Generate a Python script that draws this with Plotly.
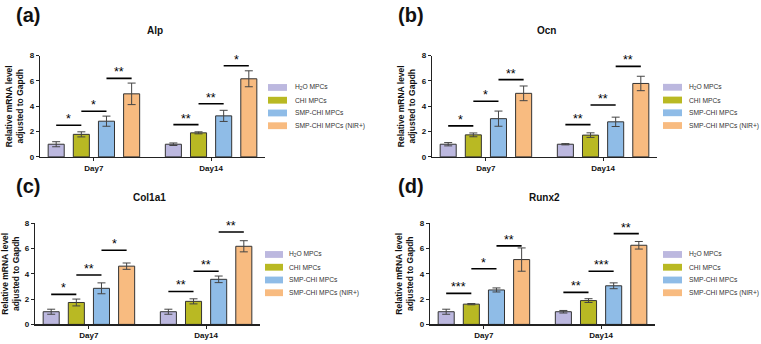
import plotly.graph_objects as go

# ---------------- data ----------------
days = ["Day7", "Day14"]
groups = ["H<sub>2</sub>O MPCs", "CHI MPCs", "SMP-CHI MPCs", "SMP-CHI MPCs (NIR+)"]
panel_titles = ["Alp", "Ocn", "Col1a1", "Runx2"]
panel_labels = ["(a)", "(b)", "(c)", "(d)"]

# values[group] = [Day7, Day14]
alp_mean = [[1.0, 1.0], [1.78, 1.9], [2.82, 3.24], [4.98, 6.17]]
alp_err = [[0.2, 0.1], [0.2, 0.08], [0.4, 0.44], [0.85, 0.63]]
ocn_mean = [[1.0, 1.0], [1.74, 1.72], [3.02, 2.77], [5.02, 5.8]]
ocn_err = [[0.13, 0.05], [0.15, 0.18], [0.6, 0.37], [0.58, 0.57]]
col_mean = [[1.0, 1.0], [1.73, 1.82], [2.85, 3.56], [4.6, 6.17]]
col_err = [[0.2, 0.2], [0.27, 0.2], [0.43, 0.26], [0.25, 0.44]]
run_mean = [[1.0, 1.0], [1.6, 1.88], [2.72, 3.05], [5.12, 6.25]]
run_err = [[0.2, 0.1], [0.05, 0.15], [0.16, 0.23], [0.92, 0.3]]

# significance: (day index, group i, group j, height, label)
alp_sig = [(0, 0, 1, 2.5, "*"), (0, 1, 2, 3.6, "*"), (0, 2, 3, 6.2, "**"),
           (1, 0, 1, 2.55, "**"), (1, 1, 2, 4.2, "**"), (1, 2, 3, 7.2, "*")]
ocn_sig = [(0, 0, 1, 2.45, "*"), (0, 1, 2, 4.4, "*"), (0, 2, 3, 6.1, "**"),
           (1, 0, 1, 2.55, "**"), (1, 1, 2, 4.1, "**"), (1, 2, 3, 7.15, "**")]
col_sig = [(0, 0, 1, 2.37, "*"), (0, 1, 2, 3.9, "**"), (0, 2, 3, 5.86, "*"),
           (1, 0, 1, 2.6, "**"), (1, 1, 2, 4.2, "**"), (1, 2, 3, 7.3, "**")]
run_sig = [(0, 0, 1, 2.45, "***"), (0, 1, 2, 4.4, "*"), (0, 2, 3, 6.2, "**"),
           (1, 0, 1, 2.53, "**"), (1, 1, 2, 4.2, "***"), (1, 2, 3, 7.17, "**")]

yticks = [0, 2, 4, 6, 8]

# ---------------- style ----------------
colors = ["#BCB8DF", "#B9B923", "#8FBCE7", "#F8BB80"]
W, H = 761, 344


def fx(px):
    return px / W


def fy(py):
    return 1 - py / H


FONT = "Arial, Liberation Sans, sans-serif"
STRIDE = 0.2146
BARW = 0.137
XR = [-0.46, 1.46]
# pixel boxes: (x0, x1, ytop, ybottom)
boxes = [(40, 265, 53, 157), (432, 657, 53, 157), (35, 260, 225, 329), (430, 655, 225, 329)]
# legend: swatch x0, swatch x1, text x, first row y
legend_px = [(268, 287, 293, 85.7), (663, 682, 687, 85.5), (265, 283, 287, 257.2), (663, 682, 687, 257.2)]
ROW = 13.1

means = [alp_mean, ocn_mean, col_mean, run_mean]
errs = [alp_err, ocn_err, col_err, run_err]
sigs = [alp_sig, ocn_sig, col_sig, run_sig]

fig = go.Figure()
annotations = []
shapes = []
layout = {}


def xpos(day, g):
    return day + (g - 1.5) * STRIDE


for p in range(4):
    ax = "" if p == 0 else str(p + 1)
    xa, ya = "x" + ax, "y" + ax
    for g in range(4):
        fig.add_trace(go.Bar(
            x=[xpos(d, g) for d in range(len(days))],
            y=means[p][g],
            width=BARW,
            name=groups[g],
            marker=dict(color=colors[g], line=dict(color="#333333", width=1)),
            error_y=dict(type="data", array=errs[p][g], color="#444444", thickness=1, width=4),
            xaxis=xa, yaxis=ya, showlegend=False,
        ))
    for (d, i, j, h, lab) in sigs[p]:
        fig.add_trace(go.Scatter(
            x=[xpos(d, i), xpos(d, j)], y=[h, h], mode="lines",
            line=dict(color="black", width=1.6),
            xaxis=xa, yaxis=ya, showlegend=False, hoverinfo="skip",
        ))
        annotations.append(dict(
            x=(xpos(d, i) + xpos(d, j)) / 2, y=h, xref=xa, yref=ya,
            text=lab, showarrow=False, yanchor="bottom", yshift=-3,
            font=dict(family=FONT, size=12.5, color="black"),
        ))
    x0, x1, yt, yb = boxes[p]
    layout["xaxis" + ax] = dict(
        domain=[fx(x0), fx(x1)], range=XR, anchor=ya,
        tickvals=list(range(len(days))), ticktext=["<b>%s</b>" % d for d in days],
        showline=True, linecolor="#222", linewidth=1.2, ticks="outside", ticklen=3,
        tickcolor="#222", tickfont=dict(family=FONT, size=8, color="#111"),
        showgrid=False, zeroline=False, fixedrange=True,
    )
    layout["yaxis" + ax] = dict(
        domain=[fy(yb), fy(yt)], range=[0, 8], anchor=xa,
        tickvals=yticks, ticktext=["<b>%d</b>" % t for t in yticks],
        showline=True, linecolor="#222", linewidth=1.2, ticks="outside", ticklen=3,
        tickcolor="#222", tickfont=dict(family=FONT, size=8, color="#111"),
        showgrid=False, zeroline=False, fixedrange=True,
        title=dict(text="<b>Relative mRNA level<br>adjusted to Gapdh</b>",
                   font=dict(family=FONT, size=8.5, color="#111"), standoff=4),
    )
    # legend (manual)
    sx0, sx1, tx, ry = legend_px[p]
    for g in range(4):
        cy = ry + g * ROW
        shapes.append(dict(type="rect", xref="paper", yref="paper",
                           x0=fx(sx0), x1=fx(sx1), y0=fy(cy + 3.5), y1=fy(cy - 3.5),
                           fillcolor=colors[g], line=dict(width=0)))
        annotations.append(dict(
            x=fx(tx), y=fy(cy), xref="paper", yref="paper", text=groups[g],
            showarrow=False, xanchor="left", yanchor="middle",
            font=dict(family=FONT, size=6.7, color="#333"),
        ))
    # panel title
    annotations.append(dict(
        x=fx((x0 + x1) / 2 + 2), y=fy(yt - 26), xref="paper", yref="paper",
        text="<b>%s</b>" % panel_titles[p], showarrow=False,
        font=dict(family=FONT, size=10, color="#111"), xanchor="center", yanchor="middle",
    ))
    # panel label
    lab_x = 14 if p % 2 == 0 else 396
    lab_y = 11 if p < 2 else 187
    annotations.append(dict(
        x=fx(lab_x), y=fy(lab_y), xref="paper", yref="paper",
        text="<b>%s</b>" % panel_labels[p], showarrow=False,
        font=dict(family=FONT, size=20, color="#111"), xanchor="left", yanchor="middle",
    ))

fig.update_layout(
    width=W, height=H, margin=dict(l=0, r=0, t=0, b=0),
    paper_bgcolor="white", plot_bgcolor="white", showlegend=False,
    barmode="overlay", annotations=annotations, shapes=shapes, hovermode=False,
    **layout,
)
fig.write_html("out.html", config={"displayModeBar": False, "staticPlot": True},
               post_script="document.body.style.margin='0px';document.body.style.overflow='hidden';")
